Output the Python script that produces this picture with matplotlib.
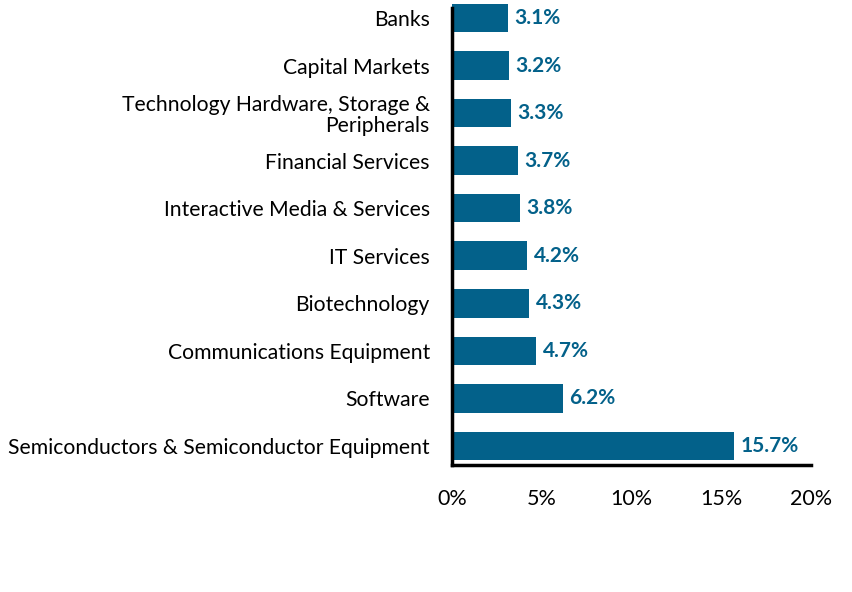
import matplotlib.pyplot as plt

plt.rcParams['font.family'] = ['Lato', 'DejaVu Sans']

# data, top to bottom as in the chart
industries = ['Banks', 'Capital Markets', 'Technology Hardware, Storage &\nPeripherals',
              'Financial Services', 'Interactive Media & Services', 'IT Services',
              'Biotechnology', 'Communications Equipment', 'Software',
              'Semiconductors & Semiconductor Equipment']
weights = [3.1, 3.2, 3.3, 3.7, 3.8, 4.2, 4.3, 4.7, 6.2, 15.7]
xticks = [0, 5, 10, 15, 20]

bar_color = '#03618A'

fig = plt.figure(figsize=(8.52, 5.92), dpi=100)
ax = fig.add_axes([0.5305, 0.2145, 0.4215, 0.772])

ypos = list(range(len(industries)))[::-1]
bars = ax.barh(ypos, weights, height=0.6, color=bar_color, clip_on=False)

for y, w in zip(ypos, weights):
    ax.text(w + 0.35, y, f'{w}%', va='center', ha='left', fontsize=15,
            fontweight='bold', color=bar_color)

ax.set_yticks(ypos)
ax.set_yticklabels(industries, fontsize=15.2, linespacing=1.05)
ax.set_xticks(xticks)
ax.set_xticklabels([f'{t}%' for t in xticks], fontsize=15.5)
ax.set_xlim(0, 20)
ax.set_ylim(-0.4, 9.21)

ax.tick_params(axis='both', length=0)
ax.tick_params(axis='y', pad=16)
ax.tick_params(axis='x', pad=17)

for s in ['top', 'right']:
    ax.spines[s].set_visible(False)
for s in ['left', 'bottom']:
    ax.spines[s].set_linewidth(2.5)
    ax.spines[s].set_color('black')

fig.savefig('out.png', dpi=100)
